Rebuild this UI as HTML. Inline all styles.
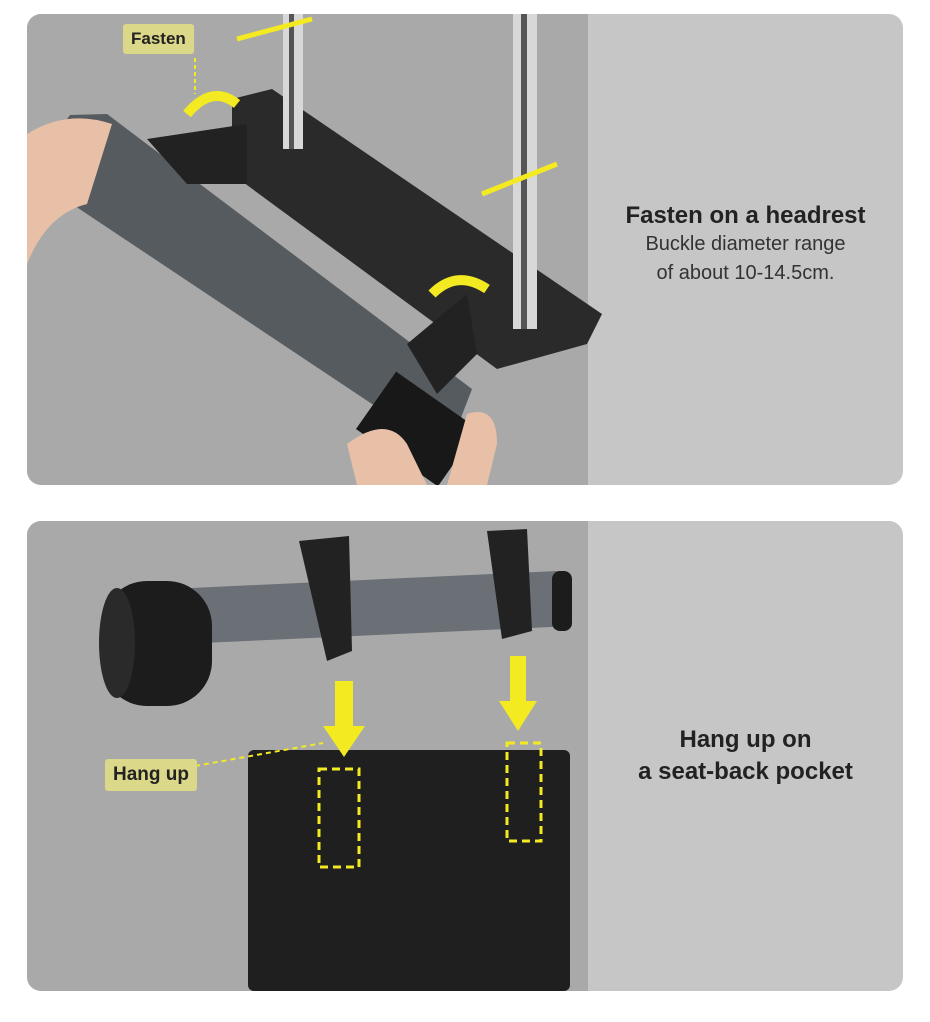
<!DOCTYPE html>
<html><head><meta charset="utf-8"><style>
html,body{margin:0;padding:0;background:#fff;width:930px;height:1022px;overflow:hidden;font-family:"Liberation Sans",sans-serif}
.p{position:absolute;left:27px;width:876px;border-radius:14px;overflow:hidden;background:#c6c6c6}
.l{position:absolute;left:0;top:0;width:561px;height:100%;background:#a9a9a9}
svg{position:absolute;left:0;top:0}
.t{position:absolute;text-align:center;color:#222}
.h{font-weight:bold;font-size:24px}
.s{font-size:20px;color:#333;line-height:29px}
.tag{position:absolute;background:#dcd88a;color:#222;font-weight:bold;font-size:17px;padding:5px 8px;border-radius:3px}
</style></head><body>
<div class="p" style="top:14px;height:471px">
<div class="l"></div>
<svg width="876" height="471">
<polygon points="205,85 245,75 575,300 560,330 470,355 205,160" fill="#2a2a2a"/>
<rect x="256" y="0" width="20" height="135" fill="#d8d8d8"/><rect x="262" y="0" width="5" height="135" fill="#555"/>
<rect x="486" y="0" width="24" height="315" fill="#d8d8d8"/><rect x="494" y="0" width="6" height="315" fill="#555"/>
<path d="M210,25 L285,5 M455,180 L530,150" stroke="#f3ea22" stroke-width="5"/>
<polygon points="43,101 80,100 445,375 420,440 0,160" fill="#555b5f"/>
<polygon points="120,125 220,110 220,170 160,170" fill="#222"/>
<polygon points="380,330 440,280 450,340 410,380" fill="#222"/>
<rect x="340" y="380" width="100" height="70" fill="#181818" transform="rotate(35 390 415)"/>
<path d="M0,120 Q40,95 85,110 L60,190 Q20,200 0,250Z" fill="#e8c0a8"/>
<path d="M320,430 Q360,400 380,430 L400,471 L330,471Z" fill="#e8c0a8"/>
<path d="M440,400 Q470,390 470,430 L460,471 L420,471Z" fill="#e8c0a8"/>
<path d="M160,100 Q185,70 210,90" stroke="#f3ea22" stroke-width="10" fill="none"/>
<path d="M405,280 Q430,255 460,275" stroke="#f3ea22" stroke-width="10" fill="none"/>
<line x1="168" y1="44" x2="168" y2="80" stroke="#f3ea22" stroke-width="2" stroke-dasharray="4 3"/>
</svg>
<div class="tag" style="left:96px;top:10px">Fasten</div>
<div class="t" style="left:561px;width:315px;top:188px"><div class="h">Fasten on a headrest</div><div class="s">Buckle diameter range<br>of about 10-14.5cm.</div></div>
</div>
<div class="p" style="top:521px;height:470px">
<div class="l"></div>
<svg width="876" height="470">
<rect x="221" y="229" width="322" height="241" rx="6" fill="#1f1f1f"/>
<polygon points="100,70 530,50 545,105 110,125" fill="#6a7075"/>
<rect x="75" y="60" width="110" height="125" rx="45" fill="#1c1c1c"/>
<ellipse cx="90" cy="122" rx="18" ry="55" fill="#2a2a2a"/>
<rect x="525" y="50" width="20" height="60" rx="8" fill="#1c1c1c"/>
<path d="M272,20 L322,15 L325,130 L300,140 Z" fill="#222"/>
<path d="M460,10 L500,8 L505,110 L475,118 Z" fill="#222"/>
<polygon points="308,160 326,160 326,205 338,205 317,236 296,205 308,205" fill="#f3ea22"/>
<polygon points="483,135 499,135 499,180 510,180 491,210 472,180 483,180" fill="#f3ea22"/>
<rect x="292" y="248" width="40" height="98" fill="none" stroke="#f3ea22" stroke-width="3" stroke-dasharray="8 5"/>
<rect x="480" y="222" width="34" height="98" fill="none" stroke="#f3ea22" stroke-width="3" stroke-dasharray="8 5"/>
<line x1="168" y1="245" x2="296" y2="222" stroke="#f3ea22" stroke-width="2" stroke-dasharray="5 4"/>
</svg>
<div class="tag" style="left:78px;top:238px;font-size:19px">Hang up</div>
<div class="t h" style="left:561px;width:315px;top:203px;line-height:32px">Hang up on<br>a seat-back pocket</div>
</div>
</body></html>
